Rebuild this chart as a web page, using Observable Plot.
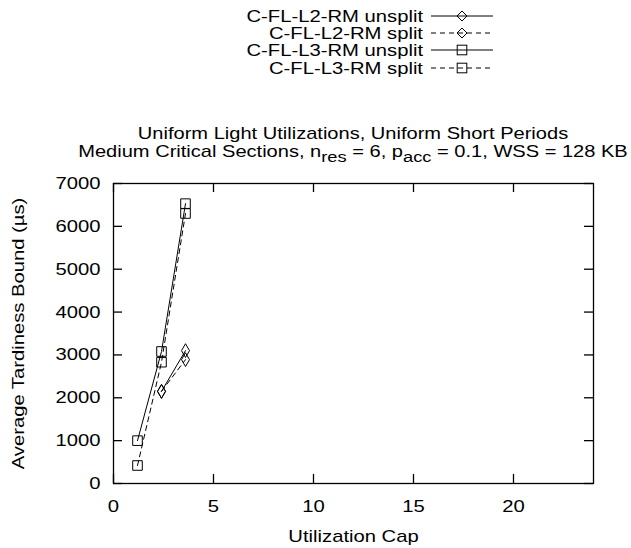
<!DOCTYPE html>
<html>
<head>
<meta charset="utf-8">
<script src="https://cdn.jsdelivr.net/npm/d3@7"></script>
<script src="https://cdn.jsdelivr.net/npm/@observablehq/plot@0.6"></script>
<style>
  html, body { margin: 0; padding: 0; background: #fff; overflow: hidden; }
  #wrap { position: relative; width: 631px; height: 548px; font-family: "Liberation Sans", Arial, sans-serif; overflow: hidden; }
  #wrap svg { position: absolute; left: 0; top: 0; }
  #title { position: absolute; left: 103px; width: 500px; top: 125px; text-align: center; font-size: 17px; line-height: 18px; color: #000; white-space: nowrap; transform: scaleX(1.18); transform-origin: 250px 0; }
  #title sub { font-size: 15.5px; vertical-align: -0.3em; line-height: 0; }
</style>
</head>
<body>
<div id="wrap">
  <div id="plot"></div>
  <svg id="legend" width="631" height="90"></svg>
  <div id="title">Uniform Light Utilizations, Uniform Short Periods<br>Medium Critical Sections, n<sub>res</sub> = 6, p<sub>acc</sub> = 0.1, WSS = 128 KB</div>
</div>
<script>
// Data
const utilizationCap = [1.2, 2.4, 3.6];
const l2Unsplit = [null, 2150, 3100];
const l2Split   = [null, 2150, 2890];
const l3Unsplit = [1000, 3080, 6530];
const l3Split   = [420, 2830, 6300];
const seriesNames = ["C-FL-L2-RM unsplit", "C-FL-L2-RM split", "C-FL-L3-RM unsplit", "C-FL-L3-RM split"];
const xTicks = [0, 5, 10, 15, 20];
const yTicks = [0, 1000, 2000, 3000, 4000, 5000, 6000, 7000];
const xLabel = "Utilization Cap";
const yLabel = "Average Tardiness Bound (µs)";

const seriesDefs = [
  {name: seriesNames[0], values: l2Unsplit, symbol: "diamond", dashed: false},
  {name: seriesNames[1], values: l2Split, symbol: "diamond", dashed: true},
  {name: seriesNames[2], values: l3Unsplit, symbol: "square", dashed: false},
  {name: seriesNames[3], values: l3Split, symbol: "square", dashed: true}
];
const rows = [];
for (const s of seriesDefs) {
  s.values.forEach((v, i) => {
    if (v != null) rows.push({series: s.name, x: utilizationCap[i], y: v, symbol: s.symbol, dashed: s.dashed});
  });
}
const dash = "5,4";
const font = "Liberation Sans, Arial, sans-serif";
const stretch = 1.19;

const marks = [];
for (const s of seriesDefs) {
  const d = rows.filter(r => r.series === s.name);
  marks.push(Plot.line(d, {x: "x", y: "y", stroke: "black", strokeWidth: 1, strokeDasharray: s.dashed ? dash : null}));
  marks.push(Plot.dot(d, {x: "x", y: "y", symbol: s.symbol, r: s.symbol === "square" ? 5.4 : 4.2, stroke: "black", fill: "none", strokeWidth: 1}));
}

const chart = Plot.plot({
  width: 631,
  height: 548,
  marginLeft: 113,
  marginRight: 38,
  marginTop: 183,
  marginBottom: 65,
  style: {fontFamily: font, fontSize: "17px", color: "black", background: "transparent"},
  x: {domain: [0, 24]},
  y: {domain: [0, 7000]},
  marks: [
    Plot.frame({stroke: "black", strokeWidth: 1.3}),
    Plot.tickX(xTicks, {x: d => d, insetTop: 291, stroke: "black", strokeWidth: 1.3}),
    Plot.tickX(xTicks, {x: d => d, insetBottom: 291, stroke: "black", strokeWidth: 1.3}),
    Plot.tickY(yTicks, {y: d => d, insetRight: 471, stroke: "black", strokeWidth: 1.3}),
    Plot.tickY(yTicks, {y: d => d, insetLeft: 471, stroke: "black", strokeWidth: 1.3}),
    Plot.axisX(xTicks, {tickSize: 0, tickPadding: 16, label: null, fontSize: 17, tickFormat: d => String(d)}),
    Plot.axisY(yTicks, {tickSize: 0, tickPadding: 13, label: null, fontSize: 17, tickFormat: d => String(d)}),
    Plot.text([xLabel], {frameAnchor: "bottom", dy: 58, fontSize: 17, fill: "black"}),
    Plot.text([yLabel], {frameAnchor: "left", dx: -95, rotate: -90, textAnchor: "middle", fontSize: 17, fill: "black"}),
    ...marks
  ]
});
document.getElementById("plot").appendChild(chart);

// Legend
const lg = d3.select("#legend");
const rowY = [16, 33, 50, 68];
seriesDefs.forEach((s, i) => {
  const y = rowY[i];
  lg.append("text").attr("x", 423).attr("y", y).attr("dy", "0.36em")
    .attr("text-anchor", "end").attr("font-family", font).attr("font-size", 17).text(s.name);
  lg.append("line").attr("x1", 431).attr("x2", 493).attr("y1", y).attr("y2", y)
    .attr("stroke", "black").attr("stroke-width", 1).attr("stroke-dasharray", s.dashed ? dash : null);
  if (s.symbol === "square") {
    lg.append("rect").attr("x", 462 - 4.8).attr("y", y - 4.8).attr("width", 9.6).attr("height", 9.6)
      .attr("fill", "none").attr("stroke", "black");
  } else {
    lg.append("path").attr("d", `M462,${y-5}L467,${y}L462,${y+5}L457,${y}Z`).attr("fill", "none").attr("stroke", "black");
  }
});

// Widen glyphs horizontally to match the reference's wide Helvetica rendering
document.querySelectorAll("#wrap svg text").forEach(el => {
  if (el.textContent === yLabel) {
    const t = el.getAttribute("transform") || "";
    el.setAttribute("transform", t + ` scale(${stretch},1)`);
    return;
  }
  const w = el.getComputedTextLength();
  if (w > 0) {
    el.setAttribute("textLength", (w * stretch).toFixed(1));
    el.setAttribute("lengthAdjust", "spacingAndGlyphs");
  }
});
</script>
</body>
</html>
